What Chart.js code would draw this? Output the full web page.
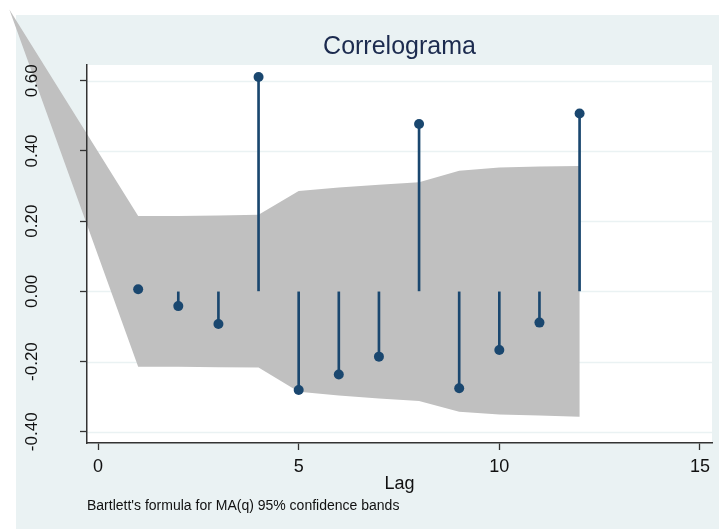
<!DOCTYPE html>
<html>
<head>
<meta charset="utf-8">
<script src="https://cdn.jsdelivr.net/npm/chart.js@4.4.1/dist/chart.umd.min.js"></script>
<style>
  html, body { margin: 0; padding: 0; background: #ffffff; }
  canvas { display: block; }
</style>
</head>
<body>
<canvas id="c" width="719" height="529"></canvas>
<script>
// ---- data ----
const lags = [1, 2, 3, 4, 5, 6, 7, 8, 9, 10, 11, 12];
const acValues = [0.006, -0.042, -0.093, 0.611, -0.281, -0.237, -0.186, 0.477, -0.276, -0.167, -0.089, 0.507];
const bandUpper = [0.215, 0.215, 0.216, 0.218, 0.286, 0.296, 0.304, 0.311, 0.344, 0.353, 0.356, 0.357];
const bandLower = [-0.215, -0.215, -0.216, -0.217, -0.286, -0.297, -0.305, -0.312, -0.343, -0.351, -0.354, -0.357];
const bandVertexLag = -2.21;
const bandVertexValue = 0.803;
const xTicks = [0, 5, 10, 15];
const yTicks = [-0.4, -0.2, 0, 0.2, 0.4, 0.6];
const titleText = 'Correlograma';
const xTitle = 'Lag';
const noteText = "Bartlett's formula for MA(q) 95% confidence bands";

// ---- styles ----
const NAVY = '#1A476F';
const BAND = '#C0C0C0';
const BG = '#EAF2F3';
const AXIS = '#333333';

Chart.defaults.font.family = "'Liberation Sans', Arial, Helvetica, sans-serif";

// background, plot region, horizontal grid lines and the confidence band
// (drawn before the axes so tick labels and axis lines sit on top of the band)
const backgroundPlugin = {
  id: 'stataBackground',
  beforeDraw(chart) {
    const ctx = chart.ctx;
    const a = chart.chartArea;
    const xs = chart.scales.x, ys = chart.scales.y;
    ctx.save();
    ctx.fillStyle = '#ffffff';
    ctx.fillRect(0, 0, chart.width, chart.height);
    ctx.fillStyle = BG;
    ctx.fillRect(16, 15, chart.width - 16, chart.height - 15);
    ctx.fillStyle = '#ffffff';
    ctx.fillRect(a.left, a.top, a.right - a.left, a.bottom - a.top);

    // grid lines at the y ticks
    ctx.strokeStyle = BG;
    ctx.lineWidth = 1.5;
    yTicks.forEach(v => {
      const y = Math.round(ys.getPixelForValue(v)) + 0.5;
      ctx.beginPath();
      ctx.moveTo(a.left, y);
      ctx.lineTo(a.right, y);
      ctx.stroke();
    });

    // confidence band
    ctx.fillStyle = BAND;
    ctx.beginPath();
    ctx.moveTo(xs.getPixelForValue(bandVertexLag), ys.getPixelForValue(bandVertexValue));
    for (let i = 0; i < lags.length; i++) {
      ctx.lineTo(xs.getPixelForValue(lags[i]), ys.getPixelForValue(bandUpper[i]));
    }
    for (let i = lags.length - 1; i >= 0; i--) {
      ctx.lineTo(xs.getPixelForValue(lags[i]), ys.getPixelForValue(bandLower[i]));
    }
    ctx.closePath();
    ctx.fill();
    ctx.restore();
  }
};

new Chart(document.getElementById('c'), {
  type: 'scatter',
  data: {
    datasets: [
      {
        type: 'bar',
        data: lags.map((l, i) => ({ x: l, y: [0, acValues[i]] })),
        backgroundColor: NAVY,
        borderWidth: 0,
        barThickness: 2,
        order: 2
      },
      {
        type: 'scatter',
        data: lags.map((l, i) => ({ x: l, y: acValues[i] })),
        backgroundColor: NAVY,
        borderWidth: 0,
        pointRadius: 5,
        pointHoverRadius: 5,
        order: 1
      }
    ]
  },
  options: {
    responsive: false,
    animation: false,
    devicePixelRatio: 1,
    events: [],
    layout: { padding: { left: 0, right: 7, top: 0, bottom: 0 } },
    plugins: {
      legend: { display: false },
      tooltip: { enabled: false },
      title: {
        display: true,
        text: titleText,
        fullSize: false,
        color: '#1C2B4F',
        font: { size: 25, weight: 'normal' },
        padding: { top: 32, bottom: 3 }
      },
      subtitle: {
        display: true,
        text: noteText,
        position: 'bottom',
        align: 'start',
        fullSize: false,
        color: '#111111',
        font: { size: 14, weight: 'normal' },
        padding: { top: 0, bottom: 14 }
      }
    },
    scales: {
      x: {
        type: 'linear',
        min: -0.275,
        max: 15.3,
        offset: false,
        afterBuildTicks: s => { s.ticks = xTicks.map(v => ({ value: v })); },
        afterFit: s => { s.height = 55.2; },
        ticks: {
          color: '#111111',
          font: { size: 18 },
          padding: 6,
          maxRotation: 0,
          minRotation: 0,
          callback: v => String(v)
        },
        grid: { offset: false, drawOnChartArea: false, tickLength: 7, tickColor: AXIS, tickWidth: 1.3 },
        border: { display: true, color: AXIS, width: 1.5 },
        title: { display: true, text: xTitle, color: '#111111', font: { size: 18 }, padding: { top: 0, bottom: 3.4 } }
      },
      y: {
        type: 'linear',
        min: -0.432,
        max: 0.645,
        afterBuildTicks: s => { s.ticks = yTicks.map(v => ({ value: v })); },
        afterFit: s => { s.width = 87; },
        ticks: {
          color: '#111111',
          font: { size: 17 },
          minRotation: 90,
          maxRotation: 90,
          crossAlign: 'center',
          padding: 28.6,
          callback: v => Number(v).toFixed(2)
        },
        grid: { offset: false, drawOnChartArea: false, tickLength: 7, tickColor: AXIS, tickWidth: 1.3 },
        border: { display: true, color: AXIS, width: 1.5 }
      }
    }
  },
  plugins: [backgroundPlugin]
});
</script>
</body>
</html>
